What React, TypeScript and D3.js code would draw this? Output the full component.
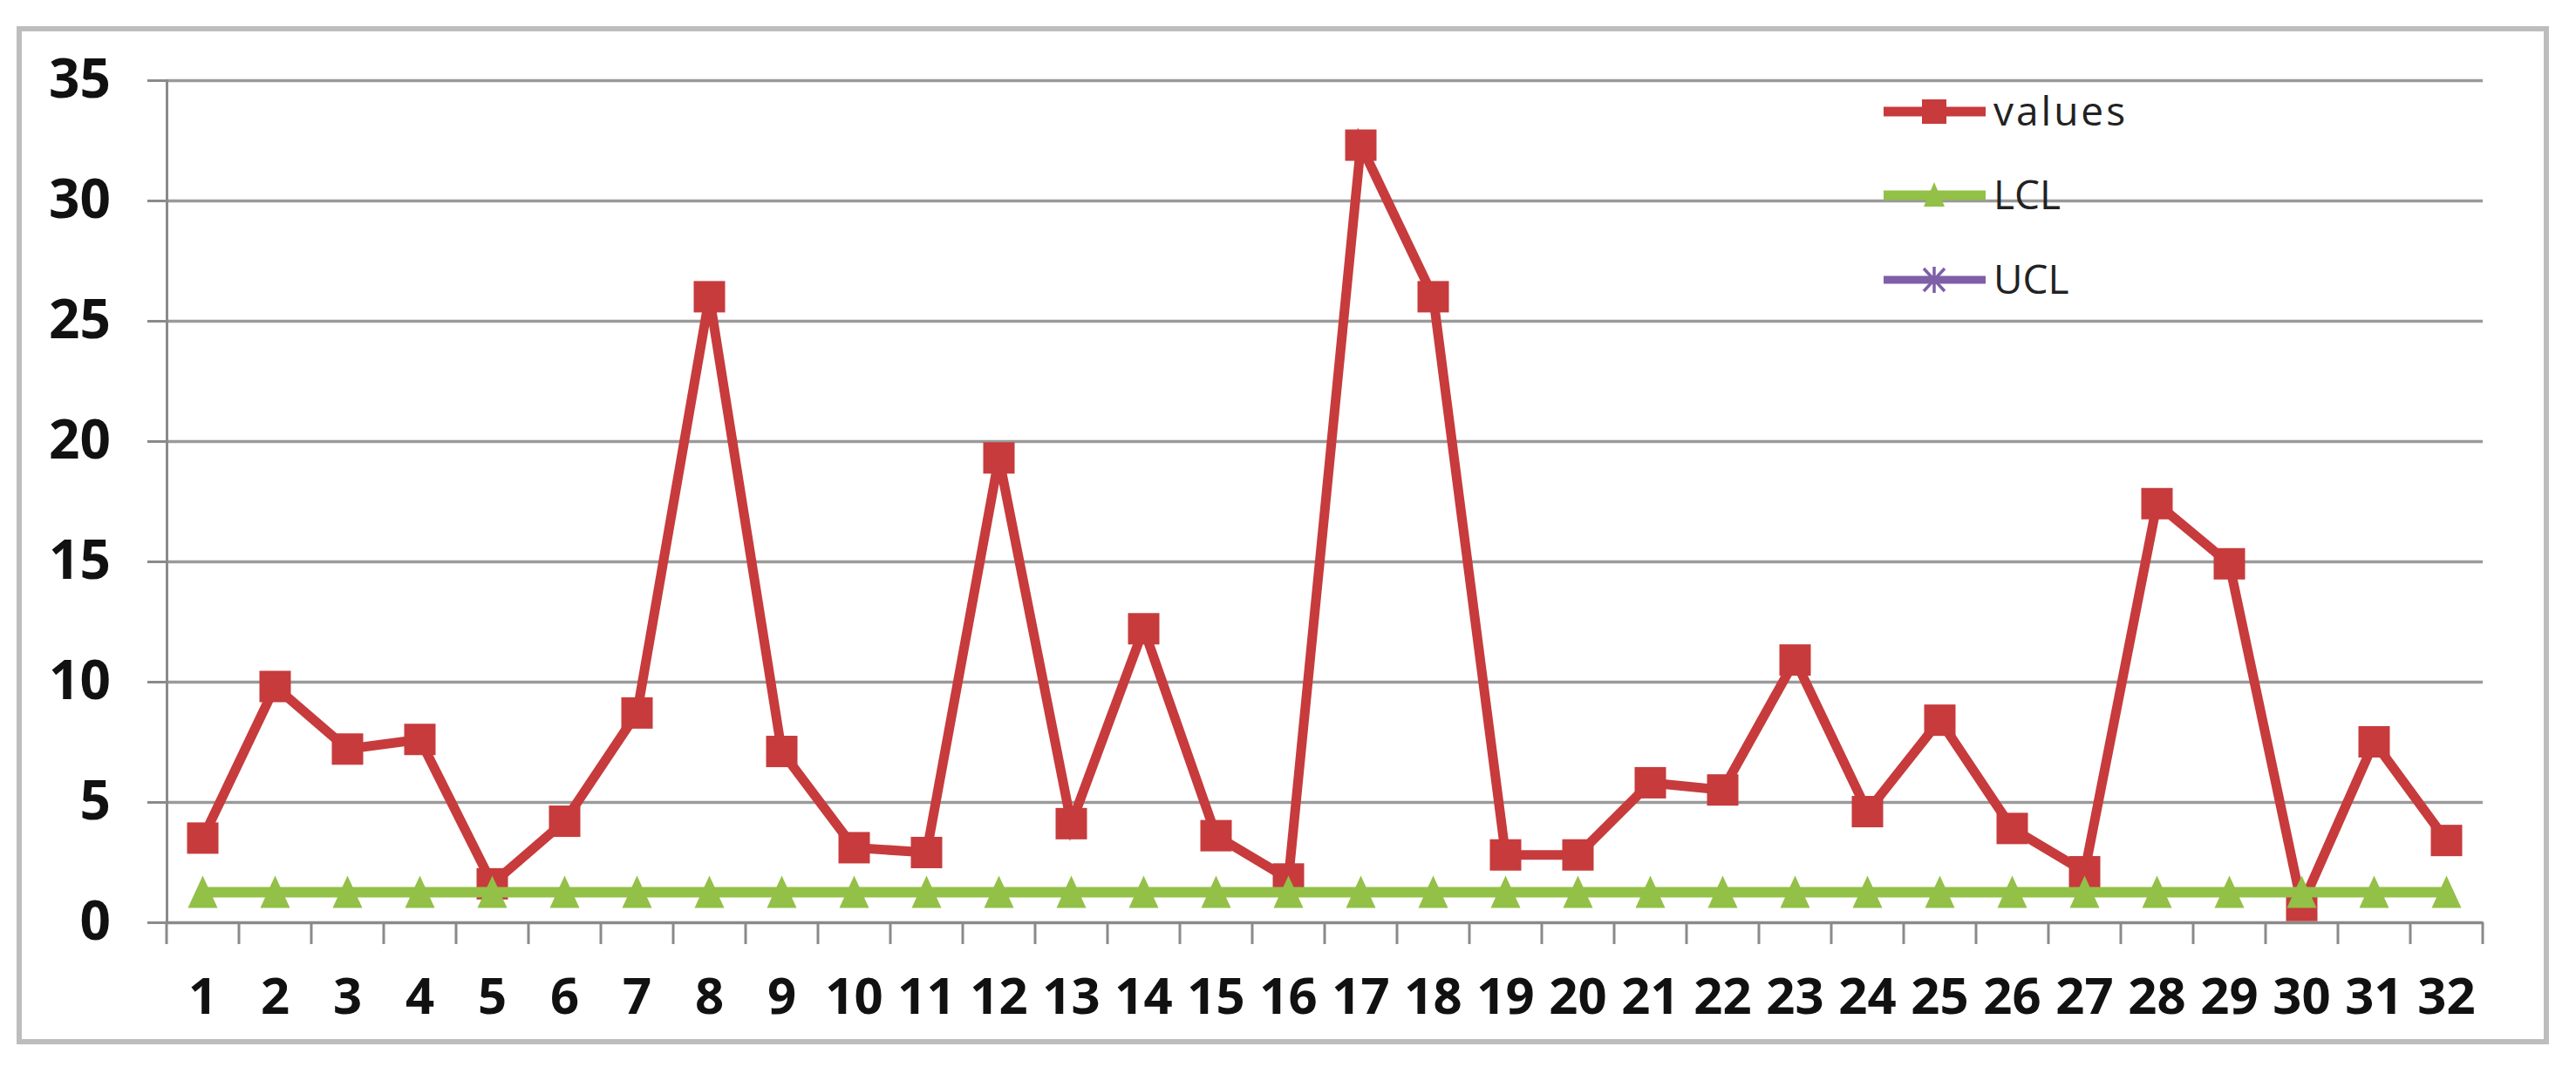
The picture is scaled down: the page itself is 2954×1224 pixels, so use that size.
import React, { useEffect, useRef } from "react";
import * as d3 from "d3";

// chart data
const categories = [
  "1", "2", "3", "4", "5", "6", "7", "8", "9", "10", "11", "12", "13", "14", "15", "16",
  "17", "18", "19", "20", "21", "22", "23", "24", "25", "26", "27", "28", "29", "30", "31", "32",
];
const values = [
  3.5, 9.8, 7.2, 7.6, 1.6, 4.2, 8.7, 26.0, 7.1, 3.1, 2.9, 19.3, 4.1, 12.2, 3.6, 1.8,
  32.3, 26.0, 2.8, 2.8, 5.8, 5.5, 10.9, 4.6, 8.4, 3.9, 2.1, 17.4, 14.9, 0.7, 7.5, 3.4,
];
const lcl = [
  1.25, 1.25, 1.25, 1.25, 1.25, 1.25, 1.25, 1.25, 1.25, 1.25, 1.25, 1.25, 1.25, 1.25, 1.25, 1.25,
  1.25, 1.25, 1.25, 1.25, 1.25, 1.25, 1.25, 1.25, 1.25, 1.25, 1.25, 1.25, 1.25, 1.25, 1.25, 1.25,
];
const ucl: number[] = []; // no visible UCL points in the plot
const yTicks = [0, 5, 10, 15, 20, 25, 30, 35];
const seriesNames = ["values", "LCL", "UCL"];

const W = 2954;
const H = 1224;
const RED = "#c73b3c";
const GREEN = "#93c047";
const PURPLE = "#7e5fa8";
const triPath = "M0,-19L17,18L-17,18Z";

const App = () => {
  const ref = useRef<SVGSVGElement>(null);

  useEffect(() => {
    drawChart();
  }, []);

  function drawChart() {
    const svg = d3.select(ref.current);
    svg.selectAll("*").remove();

    const margin = { top: 92, right: 107, bottom: 166, left: 191 };
    const x = d3
      .scaleBand()
      .domain(categories)
      .range([margin.left, W - margin.right]);
    const y = d3
      .scaleLinear()
      .domain([0, 35])
      .range([H - margin.bottom, margin.top]);
    const [x0, x1] = x.range();

    // outer frame
    svg
      .append("rect")
      .attr("x", 22)
      .attr("y", 33)
      .attr("width", 2898)
      .attr("height", 1162)
      .attr("fill", "#fff")
      .attr("stroke", "#bdbdbd")
      .attr("stroke-width", 6);

    // gridlines
    svg
      .append("g")
      .attr("transform", `translate(${x0},0)`)
      .call(
        d3
          .axisLeft(y)
          .tickValues(yTicks.filter((t) => t > 0))
          .tickSize(-(x1 - x0))
          .tickFormat(() => "")
      )
      .call((g) => g.select(".domain").remove())
      .selectAll("line")
      .attr("stroke", "#9a9a9a")
      .attr("stroke-width", 3.5);

    // y axis
    const yAxis = svg
      .append("g")
      .attr("transform", `translate(${x0},0)`)
      .call(d3.axisLeft(y).tickValues(yTicks).tickSize(22).tickPadding(42));
    yAxis.select(".domain").attr("stroke", "#8a8a8a").attr("stroke-width", 3);
    yAxis.selectAll("line").attr("stroke", "#8a8a8a").attr("stroke-width", 3);
    yAxis
      .selectAll("text")
      .attr("font-family", "'Open Sans', sans-serif")
      .attr("font-weight", 700)
      .attr("font-size", 62)
      .attr("fill", "#111");

    // x axis: labels centred, ticks at band edges
    const xAxis = svg
      .append("g")
      .attr("transform", `translate(0,${y(0)})`)
      .call(d3.axisBottom(x).tickSize(0).tickPadding(64));
    xAxis.select(".domain").attr("stroke", "#8a8a8a").attr("stroke-width", 3.5);
    xAxis
      .selectAll("text")
      .attr("font-family", "'Open Sans', sans-serif")
      .attr("font-weight", 700)
      .attr("font-size", 58)
      .attr("fill", "#111");
    const edges = categories.map((c) => x(c) as number).concat([x1]);
    xAxis
      .selectAll(".edge")
      .data(edges)
      .enter()
      .append("line")
      .attr("class", "edge")
      .attr("x1", (d) => d)
      .attr("x2", (d) => d)
      .attr("y1", 0)
      .attr("y2", 25)
      .attr("stroke", "#8a8a8a")
      .attr("stroke-width", 3);

    const cx = (i: number) => (x(categories[i]) as number) + x.bandwidth() / 2;
    const line = d3
      .line<number>()
      .x((_, i) => cx(i))
      .y((d) => y(d));

    // values series
    svg
      .append("path")
      .datum(values)
      .attr("fill", "none")
      .attr("stroke", RED)
      .attr("stroke-width", 11)
      .attr("stroke-linejoin", "miter")
      .attr("d", line);
    svg
      .selectAll(".sq")
      .data(values)
      .enter()
      .append("rect")
      .attr("class", "sq")
      .attr("x", (_, i) => cx(i) - 18)
      .attr("y", (d) => y(d) - 18)
      .attr("width", 36)
      .attr("height", 36)
      .attr("fill", RED);

    // LCL series
    svg
      .append("path")
      .datum(lcl)
      .attr("fill", "none")
      .attr("stroke", GREEN)
      .attr("stroke-width", 12)
      .attr("d", line);
    svg
      .selectAll(".tri")
      .data(lcl)
      .enter()
      .append("path")
      .attr("class", "tri")
      .attr("d", triPath)
      .attr("transform", (d, i) => `translate(${cx(i)},${y(d)})`)
      .attr("fill", GREEN);

    // UCL series (empty)
    svg
      .append("path")
      .datum(ucl)
      .attr("fill", "none")
      .attr("stroke", PURPLE)
      .attr("stroke-width", 10)
      .attr("d", line);

    // legend
    const colors = [RED, GREEN, PURPLE];
    const legendY = [128, 224, 321];
    const lg = svg.append("g");
    seriesNames.forEach((name, i) => {
      const row = lg.append("g").attr("transform", `translate(2160,${legendY[i]})`);
      row
        .append("line")
        .attr("x1", 0)
        .attr("x2", 117)
        .attr("stroke", colors[i])
        .attr("stroke-width", i === 2 ? 9 : 11);
      if (i === 0) {
        row
          .append("rect")
          .attr("x", 44)
          .attr("y", -14)
          .attr("width", 28)
          .attr("height", 28)
          .attr("fill", RED);
      } else if (i === 1) {
        row
          .append("path")
          .attr("d", "M0,-15L12,13L-12,13Z")
          .attr("transform", "translate(58,0)")
          .attr("fill", GREEN);
      } else {
        row
          .append("path")
          .attr("d", "M-12,-13L12,13M-12,13L12,-13M0,-15L0,15")
          .attr("transform", "translate(58,0)")
          .attr("stroke", PURPLE)
          .attr("stroke-width", 3.5)
          .attr("fill", "none");
      }
      row
        .append("text")
        .attr("x", 126)
        .attr("dy", "0.35em")
        .attr("font-family", "'Open Sans', sans-serif")
        .attr("font-size", 46)
        .attr("letter-spacing", i === 0 ? 3 : 0)
        .attr("fill", "#222")
        .text(name);
    });
  }

  return (
    <svg
      ref={ref}
      width={W}
      height={H}
      style={{ position: "absolute", left: 0, top: 0, display: "block", background: "#fff" }}
    />
  );
};

export default App;
